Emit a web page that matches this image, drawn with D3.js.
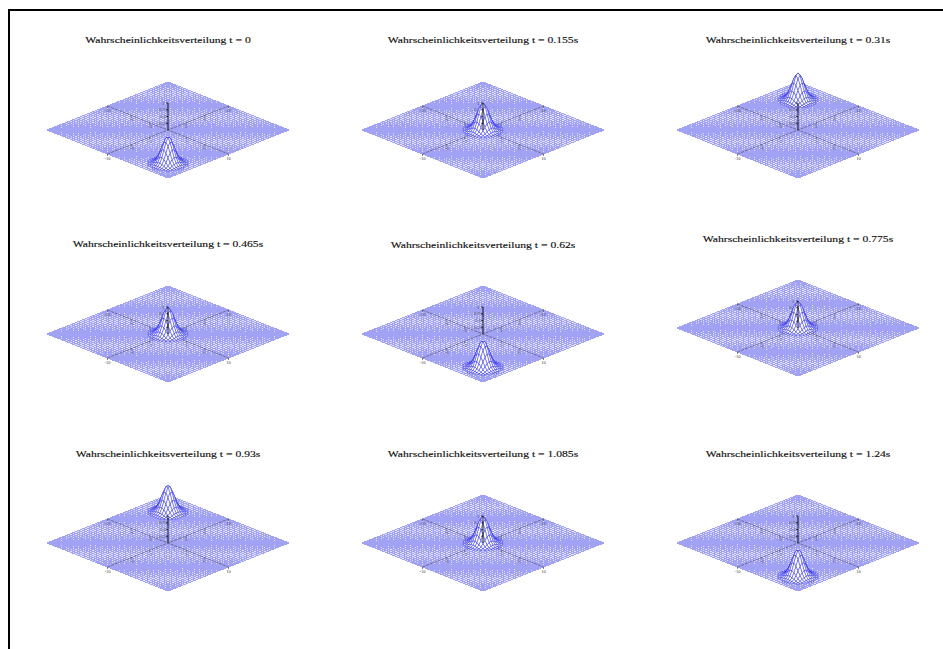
<!DOCTYPE html>
<html><head><meta charset="utf-8"><script src="https://cdnjs.cloudflare.com/ajax/libs/d3/7.8.5/d3.min.js"></script>
<style>html,body{margin:0;padding:0;background:#fff;overflow:hidden}svg{display:block}</style></head>
<body><svg id="c" width="943" height="649"></svg>
<script>
const titles=["Wahrscheinlichkeitsverteilung t = 0","Wahrscheinlichkeitsverteilung t = 0.155s","Wahrscheinlichkeitsverteilung t = 0.31s","Wahrscheinlichkeitsverteilung t = 0.465s","Wahrscheinlichkeitsverteilung t = 0.62s","Wahrscheinlichkeitsverteilung t = 0.775s","Wahrscheinlichkeitsverteilung t = 0.93s","Wahrscheinlichkeitsverteilung t = 1.085s","Wahrscheinlichkeitsverteilung t = 1.24s"];
// packet position along the diagonal (x=-d, y=d), per panel
const peakPos=[6.9,0,-6.3,0,6.9,0,-6.5,0,6.9];
const panelCol=[0,1,2,0,1,2,0,1,2];
const panelCy=[130,130,130,334,334,328,543,543,543];
const titleY=[40,40,40,244,245,239,454,454,454];
const colCx=[168,483,798];
const profileR=[0,0.3,0.6,0.9,1.2,1.5,1.8,2.1];
const profileZ=[1,0.92,0.7,0.45,0.24,0.1,0.03,0];
const axisTicks=[-10,-6,-3,3,6,10];
const zTicks=[0.25,0.5,0.75,1];

const STEP=0.4, PEAKSTEP=1/3, DOM=10;
const gridVals=d3.range(-DOM,DOM+1e-6,STEP);
const peakVals=d3.range(-DOM,DOM+1e-6,PEAKSTEP);
const sx=d3.scaleLinear().domain([-DOM,DOM]).range([-60.5,60.5]);
const sy=d3.scaleLinear().domain([-DOM,DOM]).range([-24,24]);
const sz=d3.scaleLinear().domain([0,1]).range([0,-27]);
const prof=d3.scaleLinear().domain(profileR).range(profileZ).clamp(true);
const svg=d3.select("#c");

svg.append("path").attr("d","M943,10H9V649").attr("fill","none").attr("stroke","#000").attr("stroke-width",2);

titles.forEach((t,i)=>{
  const cx=colCx[panelCol[i]], cy=panelCy[i], pk=peakPos[i];
  const g=svg.append("g").attr("transform",`translate(${cx},${cy})`);
  const X=(u,v)=>sx(u)+sx(v);
  const Y=(u,v,z=0)=>sy(v)-sy(u)+sz(z);
  const height=(u,v)=>prof(Math.hypot(u+pk,v-pk));
  // flat mesh: pale sheet + grid lines
  const corners=[[-DOM,-DOM],[DOM,-DOM],[DOM,DOM],[-DOM,DOM]];
  g.append("path").attr("d","M"+corners.map(([a,b])=>[X(a,b),Y(a,b)].join(",")).join("L")+"Z").attr("fill","#e2e2fc");
  const p=d3.path();
  gridVals.forEach(a=>{
    p.moveTo(X(a,-DOM),Y(a,-DOM));p.lineTo(X(a,DOM),Y(a,DOM));
    p.moveTo(X(-DOM,a),Y(-DOM,a));p.lineTo(X(DOM,a),Y(DOM,a));
  });
  g.append("path").attr("d",p.toString()).attr("fill","none").attr("stroke","#a2a2f5").attr("stroke-width",1).attr("shape-rendering","crispEdges");
  // axes
  const ax=g.append("g").attr("stroke","#55556a").attr("stroke-width",0.7);
  ax.append("line").attr("stroke-dasharray","3 1").attr("x1",X(-DOM,0)).attr("y1",Y(-DOM,0)).attr("x2",X(DOM,0)).attr("y2",Y(DOM,0));
  ax.append("line").attr("stroke-dasharray","3 1").attr("x1",X(0,-DOM)).attr("y1",Y(0,-DOM)).attr("x2",X(0,DOM)).attr("y2",Y(0,DOM));
  const lab=g.append("g").attr("font-family","Liberation Serif").attr("font-size",4.5).attr("fill","#444").attr("text-anchor","middle");
  axisTicks.forEach(k=>{
    [[k,0],[0,k]].forEach(([u,v])=>{
      ax.append("line").attr("x1",X(u,v)).attr("y1",Y(u,v)).attr("x2",X(u,v)).attr("y2",Y(u,v)+2);
      lab.append("text").attr("x",X(u,v)).attr("y",Y(u,v)+5.5).text(k);
    });
  });
  // packet (painter's order back to front)
  const cells=[];
  peakVals.slice(0,-1).forEach(u=>peakVals.slice(0,-1).forEach(v=>{
    if(Math.hypot(u+pk+PEAKSTEP/2,v-pk+PEAKSTEP/2)<2.3) cells.push([u,v]);
  }));
  cells.sort((a,b)=>(a[1]-a[0])-(b[1]-b[0]));
  g.append("g").selectAll("path").data(cells).join("path")
    .attr("d",([u,v])=>{
      const q=[[u,v],[u+PEAKSTEP,v],[u+PEAKSTEP,v+PEAKSTEP],[u,v+PEAKSTEP]];
      return "M"+q.map(([a,b])=>[X(a,b),Y(a,b,height(a,b))].join(",")).join("L")+"Z";
    })
    .attr("fill","#fff").attr("stroke","#2424e8").attr("stroke-width",0.45);
  // z axis
  const zg=g.append("g").attr("stroke","#111");
  zg.append("line").attr("x1",0).attr("y1",0).attr("x2",0).attr("y2",sz(1)).attr("stroke-width",1);
  zTicks.forEach(z=>{
    zg.append("line").attr("x1",-2).attr("x2",0).attr("y1",sz(z)).attr("y2",sz(z)).attr("stroke-width",0.7);
    lab.append("text").attr("x",-5).attr("y",sz(z)+1.5).text(z);
  });
  // title
  svg.append("text").attr("transform",`translate(${cx},${titleY[i]+3}) scale(1.42,1)`)
    .attr("text-anchor","middle").attr("font-family","Liberation Serif").attr("font-size",8.2)
    .attr("stroke","#000").attr("stroke-width",0.12).attr("fill","#111").text(t);
});
</script></body></html>
